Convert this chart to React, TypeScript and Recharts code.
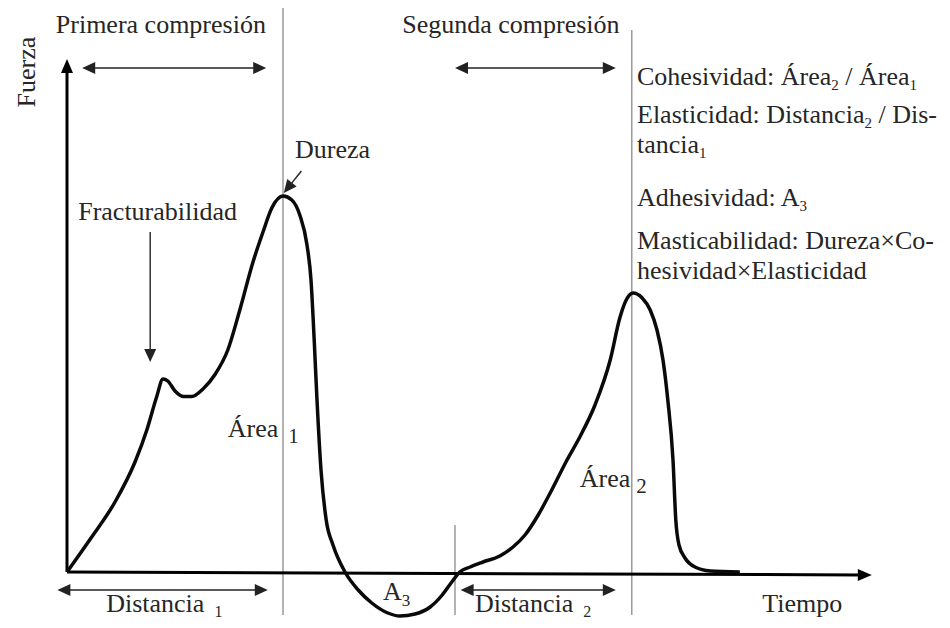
import React from "react";
import { ComposedChart, Line, XAxis, YAxis, ReferenceLine, ReferenceDot } from "recharts";

// Curva de perfil de textura (TPA): tiempo vs fuerza
const TIEMPO = [
  0, 3, 6, 8.5, 10, 11.2, 12, 12.6, 13.5, 14.6, 15.6, 17, 18.5, 20.1, 21.6, 23.25, 24.5, 25.6, 27,
  28.1, 29.1, 30, 30.5, 30.9, 31.25, 31.75, 32.4, 33.25, 34.75, 36.4, 38.1, 40.1, 41.6, 43.5, 45.4, 46.9,
  48.1, 49.1, 50.4, 52, 54.1, 55.75, 57.25, 58.9, 60.4, 62.5, 64.1, 66, 67.9, 69.1, 69.9, 70.75, 71.9,
  72.9, 73.75, 74.5, 75.1, 75.75, 76.1, 76.5, 77.25, 78.5, 80.4, 84.1,
];
const FUERZA = [
  0, 6.8, 14, 22, 28.5, 35, 38.6, 38.2, 36.2, 35.1, 35.1, 36.6, 39.5, 44.4, 52.4, 62, 68, 72.8, 75.2,
  74.4, 71.4, 65.4, 58.4, 46.4, 34.4, 20.4, 10.4, 5.4, 0, -3.6, -6.2, -8.2, -8.8, -8.4, -7, -4.6,
  -2, 0, 1, 2, 3.2, 5, 7.4, 11.4, 15.8, 22.4, 27, 33.4, 42.4, 50.8, 54.4, 55.8, 54.8,
  52.4, 48.4, 42.4, 34.4, 22.4, 10.4, 5.4, 2.8, 1, 0.2, 0,
];

const DATA = TIEMPO.map((t, i) => ({ t, fuerza: FUERZA[i] }));

const FONT = "'Liberation Serif', 'Times New Roman', Tinos, serif";
const TXT = "#262626";

function arrow(opts: { start?: boolean; end?: boolean; color: string; width: number; len: number; half: number }) {
  return (props: any) => {
    const { x1, y1, x2, y2 } = props;
    const dx = x2 - x1;
    const dy = y2 - y1;
    const d = Math.sqrt(dx * dx + dy * dy) || 1;
    const ux = dx / d;
    const uy = dy / d;
    const px = -uy;
    const py = ux;
    const head = (tx: number, ty: number, sx: number, sy: number) => {
      const bx = tx - sx * opts.len;
      const by = ty - sy * opts.len;
      return `${tx},${ty} ${bx + px * opts.half},${by + py * opts.half} ${bx - px * opts.half},${by - py * opts.half}`;
    };
    const ax = opts.start ? x1 + ux * opts.len * 0.8 : x1;
    const ay = opts.start ? y1 + uy * opts.len * 0.8 : y1;
    const bx = opts.end ? x2 - ux * opts.len * 0.8 : x2;
    const by = opts.end ? y2 - uy * opts.len * 0.8 : y2;
    return (
      <g>
        <line x1={ax} y1={ay} x2={bx} y2={by} stroke={opts.color} strokeWidth={opts.width} />
        {opts.end && <polygon points={head(x2, y2, ux, uy)} fill={opts.color} />}
        {opts.start && <polygon points={head(x1, y1, -ux, -uy)} fill={opts.color} />}
      </g>
    );
  };
}

const ejeArrow = arrow({ end: true, color: "#000", width: 3, len: 14, half: 6 });
const dobleArrow = arrow({ start: true, end: true, color: "#222", width: 1.6, len: 13, half: 6 });
const simpleArrow = arrow({ end: true, color: "#222", width: 1.4, len: 13, half: 6 });

const vline = (props: any) => (
  <line x1={props.x1} y1={props.y1} x2={props.x2} y2={props.y2} stroke="#8a8a8a" strokeWidth={1.3} />
);

// segmentos de texto: "_x" = subíndice
function texto(
  parts: string[],
  opts: { anchor?: string; rotate?: boolean; subSize?: number; shift?: number; subDx?: number } = {}
) {
  const shift = opts.shift ?? 5;
  return (props: any) => {
    let prevSub = false;
    const spans = parts.map((p, i) => {
      const isSub = p.startsWith("_");
      const dy = isSub && !prevSub ? shift : !isSub && prevSub ? -shift : 0;
      prevSub = isSub;
      return (
        <tspan
          key={i}
          dy={dy || undefined}
          dx={isSub && opts.subDx ? opts.subDx : undefined}
          fontSize={isSub ? opts.subSize ?? 15 : 26}
        >
          {isSub ? p.slice(1) : p}
        </tspan>
      );
    });
    return (
      <text
        x={props.cx}
        y={props.cy}
        fontFamily={FONT}
        fontSize={26}
        fill={TXT}
        textAnchor={opts.anchor ?? "start"}
        transform={opts.rotate ? `rotate(-90 ${props.cx} ${props.cy})` : undefined}
      >
        {spans}
      </text>
    );
  };
}

export default function App() {
  return (
    <div style={{ width: 950, height: 628, background: "#fff", fontFamily: FONT }}>
      <style>{"body{margin:0}"}</style>
      <ComposedChart width={950} height={628} data={DATA} margin={{ top: 52, right: 83, bottom: 6, left: 67 }}>
        <XAxis type="number" dataKey="t" domain={[0, 100]} hide />
        <YAxis type="number" domain={[-10, 104]} hide allowDataOverflow />

        {/* líneas verticales de referencia */}
        <ReferenceLine segment={[{ x: 27, y: -8.6 }, { x: 27, y: 112.8 }]} ifOverflow="visible" shape={vline} />
        <ReferenceLine segment={[{ x: 70.6, y: -8.6 }, { x: 70.6, y: 108.4 }]} ifOverflow="visible" shape={vline} />
        <ReferenceLine segment={[{ x: 48.5, y: -8.6 }, { x: 48.5, y: 9.4 }]} ifOverflow="visible" shape={vline} />

        {/* ejes */}
        <ReferenceLine segment={[{ x: 0, y: 0 }, { x: 0, y: 102.6 }]} ifOverflow="visible" shape={ejeArrow} />
        <ReferenceLine segment={[{ x: 0, y: 0 }, { x: 100.6, y: -0.6 }]} ifOverflow="visible" shape={ejeArrow} />

        {/* flechas dobles */}
        <ReferenceLine segment={[{ x: 1.9, y: 100.8 }, { x: 24.9, y: 100.8 }]} ifOverflow="visible" shape={dobleArrow} />
        <ReferenceLine segment={[{ x: 48.5, y: 100.8 }, { x: 68.6, y: 100.8 }]} ifOverflow="visible" shape={dobleArrow} />
        <ReferenceLine segment={[{ x: -1.2, y: -3.6 }, { x: 25.1, y: -3.6 }]} ifOverflow="visible" shape={dobleArrow} />
        <ReferenceLine segment={[{ x: 49.2, y: -3.6 }, { x: 68.6, y: -3.6 }]} ifOverflow="visible" shape={dobleArrow} />

        {/* flechas de anotación */}
        <ReferenceLine segment={[{ x: 10.4, y: 68 }, { x: 10.4, y: 42 }]} ifOverflow="visible" shape={simpleArrow} />
        <ReferenceLine segment={[{ x: 29.3, y: 80.2 }, { x: 27.1, y: 75.8 }]} ifOverflow="visible" shape={simpleArrow} />

        <Line
          type="monotone"
          dataKey="fuerza"
          stroke="#0a0a0a"
          strokeWidth={3.5}
          dot={false}
          isAnimationActive={false}
        />

        {/* textos */}
        <ReferenceDot x={-4} y={100} r={0} ifOverflow="visible" shape={texto(["Fuerza"], { anchor: "middle", rotate: true })} />
        <ReferenceDot x={-1.4} y={107.8} r={0} ifOverflow="visible" shape={texto(["Primera compresión"])} />
        <ReferenceDot x={41.9} y={107.8} r={0} ifOverflow="visible" shape={texto(["Segunda compresión"])} />
        <ReferenceDot x={28.5} y={82.8} r={0} ifOverflow="visible" shape={texto(["Dureza"])} />
        <ReferenceDot x={1.4} y={70.4} r={0} ifOverflow="visible" shape={texto(["Fracturabilidad"])} />
        <ReferenceDot x={20.1} y={27} r={0} ifOverflow="visible" shape={texto(["Área", "_1"], { subSize: 21, shift: 6, subDx: 10 })} />
        <ReferenceDot x={64.1} y={17} r={0} ifOverflow="visible" shape={texto(["Área", "_2"], { subSize: 21, shift: 6, subDx: 6 })} />
        <ReferenceDot x={39.5} y={-5.6} r={0} ifOverflow="visible" shape={texto(["A", "_3"], { subSize: 17, shift: 6 })} />
        <ReferenceDot x={4.9} y={-8} r={0} ifOverflow="visible" shape={texto(["Distancia", "_1"], { subSize: 16, shift: 5, subDx: 10 })} />
        <ReferenceDot x={51} y={-8} r={0} ifOverflow="visible" shape={texto(["Distancia", "_2"], { subSize: 16, shift: 5, subDx: 10 })} />
        <ReferenceDot x={86.9} y={-8} r={0} ifOverflow="visible" shape={texto(["Tiempo"])} />

        {/* bloque de definiciones */}
        <ReferenceDot x={71.25} y={97.4} r={0} ifOverflow="visible" shape={texto(["Cohesividad: Área", "_2", " / Área", "_1"])} />
        <ReferenceDot x={71.25} y={89.8} r={0} ifOverflow="visible" shape={texto(["Elasticidad: Distancia", "_2", " / Dis-"])} />
        <ReferenceDot x={71.25} y={83.8} r={0} ifOverflow="visible" shape={texto(["tancia", "_1"])} />
        <ReferenceDot x={71.25} y={73.2} r={0} ifOverflow="visible" shape={texto(["Adhesividad: A", "_3"])} />
        <ReferenceDot x={71.25} y={64.6} r={0} ifOverflow="visible" shape={texto(["Masticabilidad: Dureza×Co-"])} />
        <ReferenceDot x={71.25} y={58.6} r={0} ifOverflow="visible" shape={texto(["hesividad×Elasticidad"])} />
      </ComposedChart>
    </div>
  );
}
